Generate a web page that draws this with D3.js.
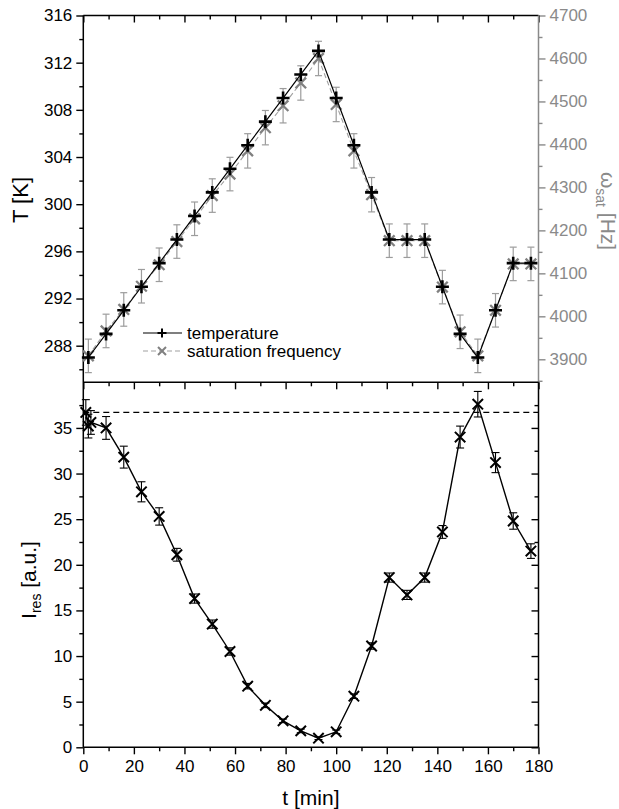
<!DOCTYPE html>
<html><head><meta charset="utf-8">
<script src="https://cdn.jsdelivr.net/npm/d3@7"></script>
<style>body{margin:0;background:#fff}svg{display:block;font-family:"Liberation Sans",Arial,sans-serif}</style>
</head><body><svg id="c" width="619" height="809"></svg>
<script>
// ---- data ----
const timeMin = [2,9,16,23,30,37,44,51,58,65,72,79,86,93,100,107,114,121,128,135,142,149,156,163,170,177];
const tempK   = [287,289,291,293,295,297,299,301,303,305,307,309,311,313,309,305,301,297,297,297,293,289,287,291,295,295];
const freqHz  = [3908,3966,4016,4070,4120,4174,4227,4281,4331,4385,4439,4490,4543,4600,4493,4385,4283,4176,4176,4176,4068,3964,3908,4014,4122,4122];
const freqErr = [39,39,39,39,39,39,39,39,39,40,40,40,40,40,40,40,40,39,39,39,39,39,39,39,39,39];

const timeI = [1,2,3,9,16,23,30,37,44,51,58,65,72,79,86,93,100,107,114,121,128,135,142,149,156,163,170,177];
const intensity = [36.7,35.2,35.6,35.0,31.8,28.0,25.3,21.1,16.3,13.5,10.5,6.7,4.6,2.9,1.8,1.0,1.7,5.6,11.1,18.6,16.7,18.6,23.6,34.0,37.6,31.2,24.8,21.5];
const intensityErr = [1.4,1.3,1.3,1.25,1.2,1.1,0.95,0.7,0.5,0.45,0.4,0.3,0.25,0.2,0.2,0.15,0.2,0.25,0.35,0.5,0.5,0.5,0.7,1.2,1.4,1.1,0.9,0.8];
const refLevel = 36.7;

const xTicks = [0,20,40,60,80,100,120,140,160,180];
const xMinor = [10,30,50,70,90,110,130,150,170];
const tTicks = [288,292,296,300,304,308,312,316];
const tMinor = [286,290,294,298,302,306,310,314];
const wTicks = [3900,4000,4100,4200,4300,4400,4500,4600,4700];
const wMinor = [3850,3950,4050,4150,4250,4350,4450,4550,4650];
const iTicks = [0,5,10,15,20,25,30,35];
const iMinor = [2.5,7.5,12.5,17.5,22.5,27.5,32.5,37.5];

// ---- layout ----
const L = 83.3, R = 538.5, T1 = 15.5, B1 = 382.3, B2 = 747.3;
const grey = "#8a8a8a", greyBar = "#9c9c9c", greyMark = "#808080";
const svg = d3.select("#c");

const x = d3.scaleLinear().domain([0,180]).range([L,R]);
const yT = d3.scaleLinear().domain([288,316]).range([345.7,T1]);
const yW = d3.scaleLinear().domain([3900,4700]).range([359.3,T1]);
const yI = d3.scaleLinear().domain([0,40]).range([B2,B1]);

function styleAxis(g, color, fs){
  g.select(".domain").remove();
  g.selectAll(".tick line").attr("stroke", color).attr("stroke-width",1.4);
  g.selectAll(".tick text").attr("fill", color).style("font-size", fs+"px").style("font-family",'"Liberation Sans",Arial,sans-serif');
}
function addAxis(axis, tr, color, fs){
  const g = svg.append("g").attr("transform", tr).call(axis);
  styleAxis(g, color, fs || 17);
  return g;
}

// top panel axes
addAxis(d3.axisLeft(yT).tickValues(tTicks).tickSize(7).tickPadding(4).tickFormat(d3.format("d")), `translate(${L},0)`, "#000");
addAxis(d3.axisLeft(yT).tickValues(tMinor).tickSize(4).tickFormat(""), `translate(${L},0)`, "#000");
addAxis(d3.axisRight(yW).tickValues(wTicks).tickSize(7).tickPadding(4).tickFormat(d3.format("d")), `translate(${R},0)`, grey);
addAxis(d3.axisRight(yW).tickValues(wMinor).tickSize(4).tickFormat(""), `translate(${R},0)`, grey);
addAxis(d3.axisBottom(x).tickValues(xTicks).tickSize(7).tickFormat(""), `translate(0,${T1})`, "#000");
addAxis(d3.axisBottom(x).tickValues(xMinor).tickSize(4).tickFormat(""), `translate(0,${T1})`, "#000");

// bottom panel axes
addAxis(d3.axisBottom(x).tickValues(xTicks).tickSize(7).tickFormat(""), `translate(0,${B1})`, "#000");
addAxis(d3.axisBottom(x).tickValues(xMinor).tickSize(4).tickFormat(""), `translate(0,${B1})`, "#000");
addAxis(d3.axisBottom(x).tickValues(xTicks).tickSize(7).tickPadding(6).tickFormat(d3.format("d")), `translate(0,${B2})`, "#000");
addAxis(d3.axisBottom(x).tickValues(xMinor).tickSize(4).tickFormat(""), `translate(0,${B2})`, "#000");
addAxis(d3.axisLeft(yI).tickValues(iTicks).tickSize(7).tickPadding(4).tickFormat(d3.format("d")), `translate(${L},0)`, "#000");
addAxis(d3.axisLeft(yI).tickValues(iMinor).tickSize(4).tickFormat(""), `translate(${L},0)`, "#000");
addAxis(d3.axisLeft(yI).tickValues(iTicks).tickSize(7).tickFormat(""), `translate(${R},0)`, "#000");
addAxis(d3.axisLeft(yI).tickValues(iMinor).tickSize(4).tickFormat(""), `translate(${R},0)`, "#000");

// frame
const fr = svg.append("g").attr("stroke-width",1.5).attr("fill","none");
fr.append("line").attr("x1",L).attr("x2",R).attr("y1",T1).attr("y2",T1).attr("stroke","#000");
fr.append("line").attr("x1",L).attr("x2",L).attr("y1",T1).attr("y2",B2).attr("stroke","#000");
fr.append("line").attr("x1",R).attr("x2",R).attr("y1",T1).attr("y2",B1).attr("stroke",grey);
fr.append("line").attr("x1",R).attr("x2",R).attr("y1",B1).attr("y2",B2).attr("stroke","#000");
fr.append("line").attr("x1",L).attr("x2",R).attr("y1",B1).attr("y2",B1).attr("stroke","#000");
fr.append("line").attr("x1",L).attr("x2",R).attr("y1",B2).attr("y2",B2).attr("stroke","#000");

const plusPath = "M-6.5,0H6.5M0,-6.5V6.5";
const xPath = s => `M${-s},${-s}L${s},${s}M${s},${-s}L${-s},${s}`;

// ---- top panel data ----
const gTop = svg.append("g");
const fData = timeMin.map((t,i)=>({t, w:freqHz[i], e:freqErr[i], T:tempK[i]}));
const eb = gTop.append("g").attr("stroke",greyBar).attr("stroke-width",1.2).attr("fill","none");
fData.forEach(d=>{
  const cx = x(d.t), y1 = yW(d.w+d.e), y2 = yW(d.w-d.e);
  eb.append("line").attr("x1",cx).attr("x2",cx).attr("y1",y1).attr("y2",y2);
  eb.append("line").attr("x1",cx-3.5).attr("x2",cx+3.5).attr("y1",y1).attr("y2",y1);
  eb.append("line").attr("x1",cx-3.5).attr("x2",cx+3.5).attr("y1",y2).attr("y2",y2);
});
gTop.append("path").datum(fData)
  .attr("d", d3.line().x(d=>x(d.t)).y(d=>yW(d.w)))
  .attr("fill","none").attr("stroke","#a0a0a0").attr("stroke-width",1.1).attr("stroke-dasharray","5,3");
gTop.append("g").selectAll("path").data(fData).join("path")
  .attr("transform", d=>`translate(${x(d.t)},${yW(d.w)})`)
  .attr("d", xPath(5.3)).attr("stroke",greyMark).attr("stroke-width",2.3).attr("fill","none");
gTop.append("path").datum(fData)
  .attr("d", d3.line().x(d=>x(d.t)).y(d=>yT(d.T)))
  .attr("fill","none").attr("stroke","#000").attr("stroke-width",1.2);
gTop.append("g").selectAll("path").data(fData).join("path")
  .attr("transform", d=>`translate(${x(d.t)},${yT(d.T)})`)
  .attr("d", plusPath).attr("stroke","#000").attr("stroke-width",2.6).attr("fill","none");

// legend
const lg = svg.append("g");
lg.append("line").attr("x1",143).attr("x2",182).attr("y1",333).attr("y2",333).attr("stroke","#000").attr("stroke-width",1.2);
lg.append("path").attr("transform","translate(162,333)").attr("d","M-4.5,0H4.5M0,-4.5V4.5").attr("stroke","#000").attr("stroke-width",2);
lg.append("line").attr("x1",143).attr("x2",182).attr("y1",351).attr("y2",351).attr("stroke","#a0a0a0").attr("stroke-width",1.1).attr("stroke-dasharray","5,3");
lg.append("path").attr("transform","translate(162,351)").attr("d",xPath(4)).attr("stroke",greyMark).attr("stroke-width",2).attr("fill","none");
lg.append("text").attr("x",187).attr("y",338.5).text("temperature").style("font-size","17px");
lg.append("text").attr("x",187).attr("y",357).text("saturation frequency").style("font-size","17px");

// ---- bottom panel data ----
const gBot = svg.append("g");
const iData = timeI.map((t,i)=>({t, v:intensity[i], e:intensityErr[i]}));
gBot.append("line").attr("x1",L).attr("x2",R).attr("y1",yI(refLevel)).attr("y2",yI(refLevel))
  .attr("stroke","#000").attr("stroke-width",1.4).attr("stroke-dasharray","6,4");
const eb2 = gBot.append("g").attr("stroke","#000").attr("stroke-width",1.1).attr("fill","none");
iData.forEach(d=>{
  const cx = x(d.t), y1 = yI(d.v+d.e), y2 = yI(d.v-d.e);
  eb2.append("line").attr("x1",cx).attr("x2",cx).attr("y1",y1).attr("y2",y2);
  eb2.append("line").attr("x1",cx-4).attr("x2",cx+4).attr("y1",y1).attr("y2",y1);
  eb2.append("line").attr("x1",cx-4).attr("x2",cx+4).attr("y1",y2).attr("y2",y2);
});
gBot.append("path").datum(iData)
  .attr("d", d3.line().x(d=>x(d.t)).y(d=>yI(d.v)))
  .attr("fill","none").attr("stroke","#000").attr("stroke-width",1.4);
gBot.append("g").selectAll("path").data(iData).join("path")
  .attr("transform", d=>`translate(${x(d.t)},${yI(d.v)})`)
  .attr("d", xPath(5.2)).attr("stroke","#000").attr("stroke-width",2).attr("fill","none");

// ---- axis titles ----
svg.append("text").attr("transform","translate(28,200) rotate(-90)").attr("text-anchor","middle")
  .style("font-size","22px").text("T [K]");
const il = svg.append("text").attr("transform","translate(36,580) rotate(-90)").attr("text-anchor","middle").style("font-size","21px");
il.append("tspan").text("I");
il.append("tspan").attr("dy",5).style("font-size","14px").text("res");
il.append("tspan").attr("dy",-5).text(" [a.u.]");
const wl = svg.append("text").attr("transform","translate(601,211) rotate(90)").attr("text-anchor","middle").attr("fill",grey).style("font-size","21px");
wl.append("tspan").text("ω");
wl.append("tspan").attr("dy",5).style("font-size","14px").text("sat");
wl.append("tspan").attr("dy",-5).text(" [Hz]");
svg.append("text").attr("x",(L+R)/2).attr("y",805).attr("text-anchor","middle").style("font-size","21px").text("t [min]");
</script></body></html>
